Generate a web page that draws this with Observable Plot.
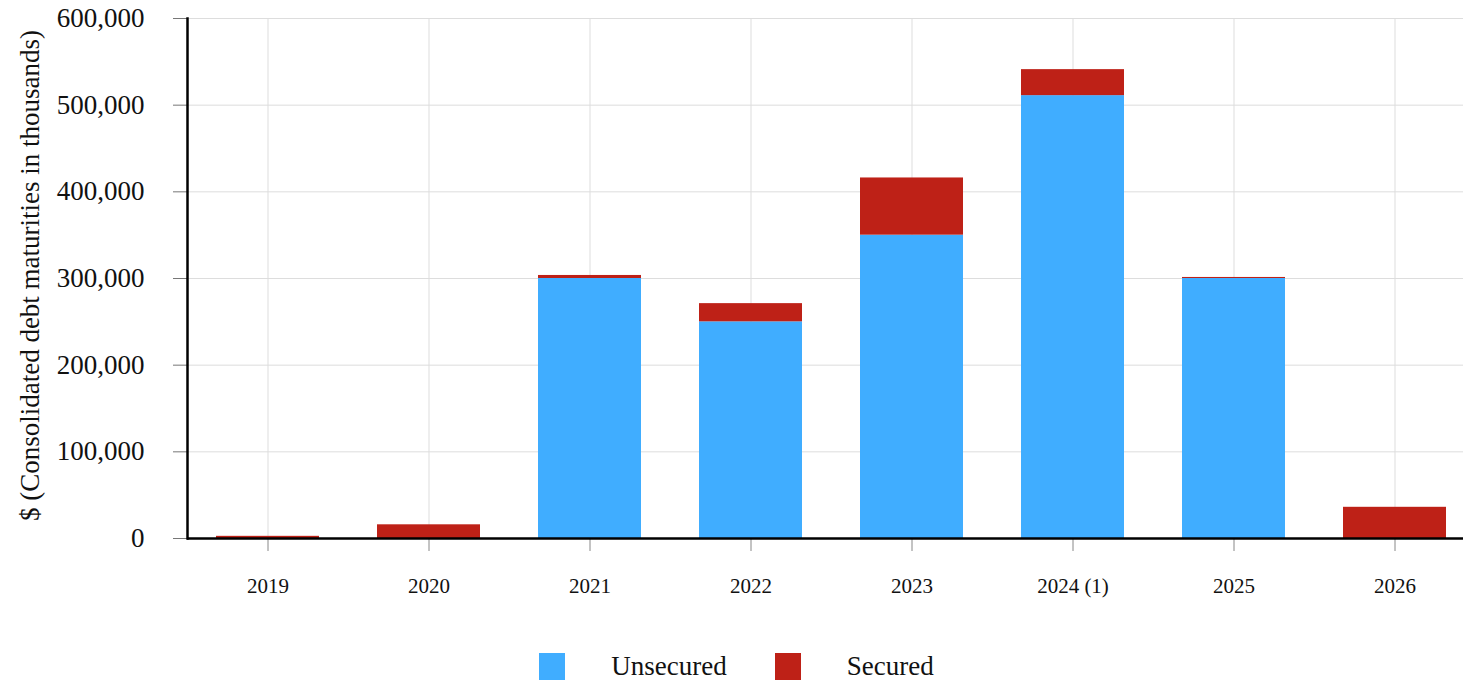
<!DOCTYPE html>
<html>
<head>
<meta charset="utf-8">
<script src="https://cdn.jsdelivr.net/npm/d3@7"></script>
<script src="https://cdn.jsdelivr.net/npm/@observablehq/plot@0.6"></script>
<style>
  body { margin: 0; background: #fff; font-family: "Liberation Serif", "DejaVu Serif", serif; }
  #chart svg text, #chart svg g { font-family: "Liberation Serif", serif !important; }
  #legend { display: flex; justify-content: center; align-items: center; margin-top: 31px; font-size: 27px; color: #111; padding-left: 10px; }
  .sw { width: 26px; height: 27px; display: inline-block; }
  .item { display: flex; align-items: center; margin: 0 24px; }
  .item span.t { margin-left: 46px; }
</style>
</head>
<body>
<div id="chart"></div>
<div id="legend"></div>
<script>
const years = ["2019", "2020", "2021", "2022", "2023", "2024 (1)", "2025", "2026"];
const series = ["Unsecured", "Secured"];
const colors = ["#40ADFF", "#BE2117"];
const unsecured = [0, 0, 300000, 250000, 350000, 511000, 300000, 0];
const secured = [2500, 15800, 3500, 21000, 66000, 30000, 1200, 36000];
const yTicks = [0, 100000, 200000, 300000, 400000, 500000, 600000];
const yLabel = "$ (Consolidated debt maturities in thousands)";

const data = [];
years.forEach((y, i) => {
  data.push({year: y, series: "Unsecured", value: unsecured[i]});
  data.push({year: y, series: "Secured", value: secured[i]});
});

const W = 1463, H = 620;
const plot = Plot.plot({
  width: W,
  height: H,
  marginTop: 18,
  marginBottom: 82,
  marginLeft: 187,
  marginRight: 0,
  style: {fontFamily: "Liberation Serif, serif", background: "white", color: "#111"},
  x: {domain: years, range: [187, 1475], paddingInner: 0.36, paddingOuter: 0.18, label: null},
  y: {domain: [0, 600000], label: null},
  color: {domain: series, range: colors},
  marks: [
    Plot.gridY(yTicks, {stroke: "#ddd", strokeOpacity: 1}),
    Plot.gridX({stroke: "#ddd", strokeOpacity: 1}),
    Plot.barY(data, {x: "year", y: "value", fill: "series", order: series}),
    Plot.axisY(yTicks, {
      tickFormat: d3.format(","), tickSize: 14, tickPadding: 29, fontSize: 27, stroke: "#777",
      fontFamily: "Liberation Serif, serif", label: null
    }),
    Plot.text([yLabel], {
      text: d => d, frameAnchor: "left", rotate: -90, dx: -157, dy: -3,
      fontSize: 27, fontFamily: "Liberation Serif, serif", fill: "#111", textAnchor: "middle"
    }),
    Plot.axisX({tickSize: 13, tickPadding: 27, fontSize: 21, stroke: "#888", fontFamily: "Liberation Serif, serif"}),
    Plot.ruleY([0], {stroke: "#000", strokeWidth: 2.5}),
    Plot.frame({anchor: "left", stroke: "#000", strokeWidth: 2.5})
  ]
});
document.getElementById("chart").appendChild(plot);

const lg = document.getElementById("legend");
series.forEach((s, i) => {
  const it = document.createElement("div");
  it.className = "item";
  it.innerHTML = `<span class="sw" style="background:${colors[i]}"></span><span class="t">${s}</span>`;
  lg.appendChild(it);
});
</script>
</body>
</html>
